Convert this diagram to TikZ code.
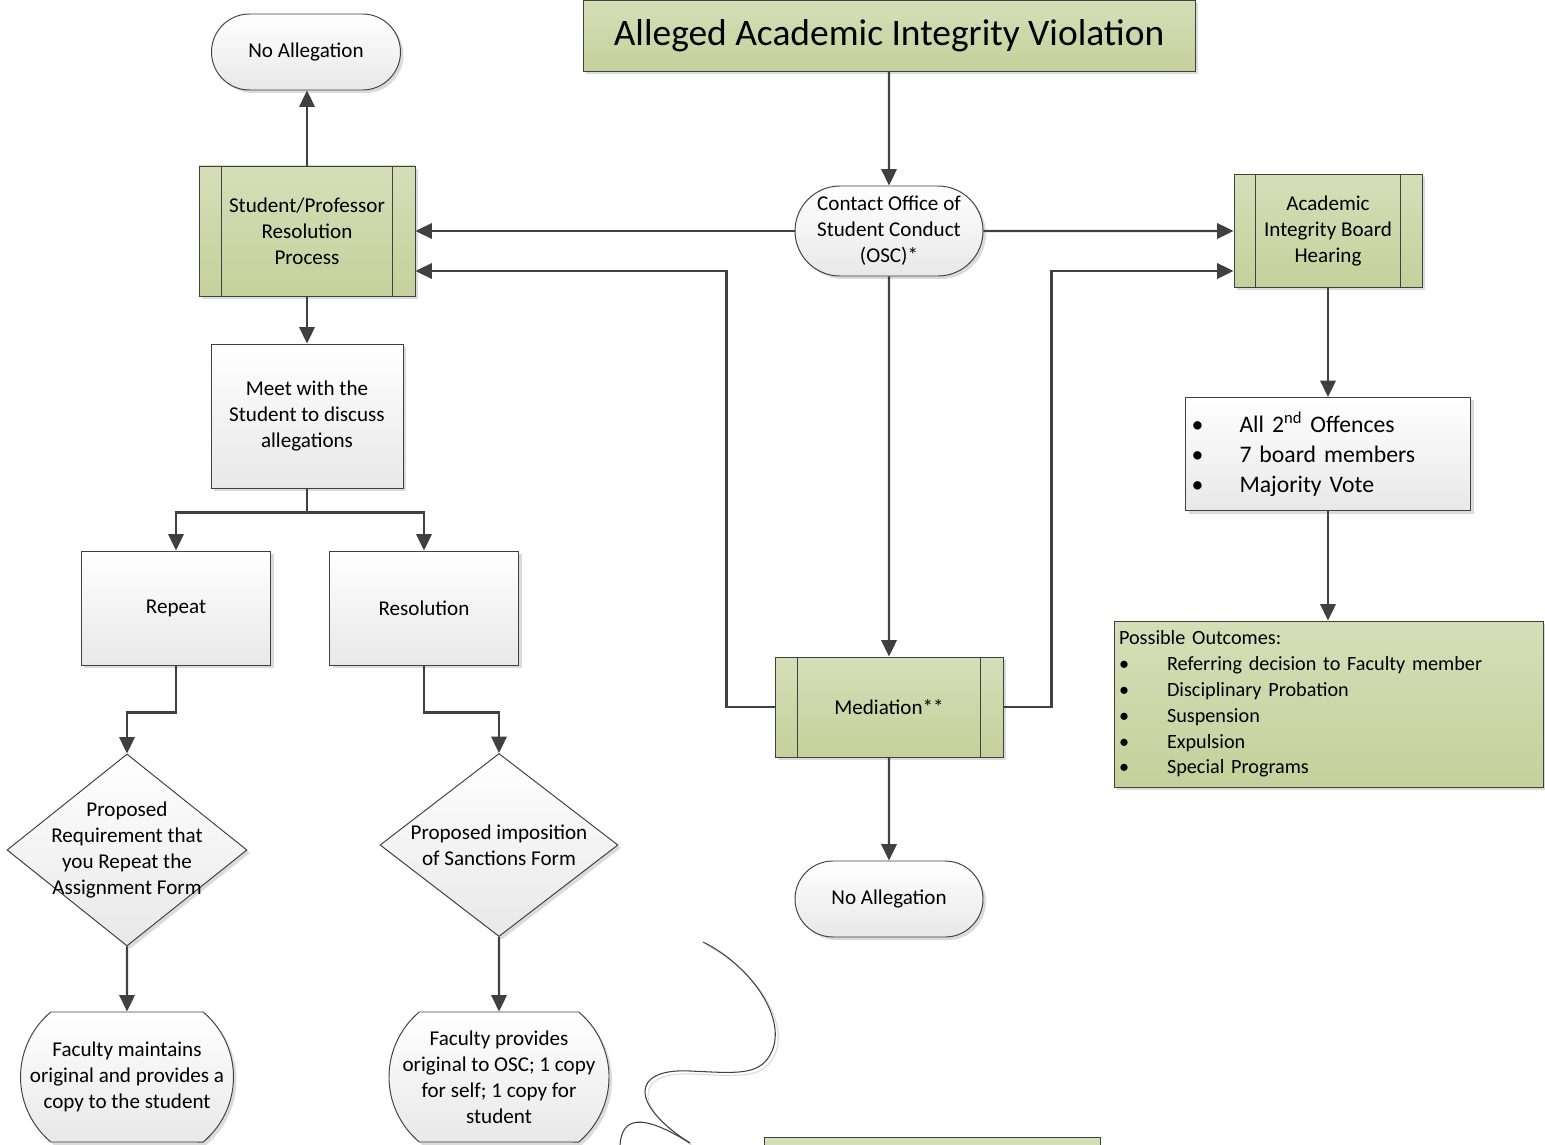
\documentclass[tikz,border=0pt]{standalone}
\usepackage{fontspec}
\setmainfont{Carlito}
\usetikzlibrary{arrows.meta, positioning, shapes.geometric, shapes.misc, shadows}
\definecolor{CLine}{HTML}{404040}
\definecolor{CGreenTop}{HTML}{D6DEB8}
\definecolor{CGreenBot}{HTML}{C5D09B}
\definecolor{CGrayBot}{HTML}{E8E8E8}

\tikzset{
  procbox/.style={draw=CLine, line width=0.55pt, top color=white, bottom color=CGrayBot,
    align=center, inner sep=0pt, font=\fontsize{12}{14.7}\selectfont,
    drop shadow={shadow xshift=0.6mm, shadow yshift=-0.6mm, fill=black!20, opacity=0.7}},
  greenproc/.style={procbox, top color=CGreenTop, bottom color=CGreenBot},
  termbox/.style={procbox, rounded rectangle},
  decbox/.style={procbox, diamond},
  flowline/.style={draw=CLine, line width=1.3pt, -{Triangle[length=3.3mm, width=3.1mm]}},
  bulletlist/.style={align=left, inner xsep=1.2mm},
}
\newcommand{\itm}{\makebox[9.6mm][l]{\textbullet}}

\begin{document}
\begin{tikzpicture}[x=0.2mm, y=-0.2mm]
    \useasboundingbox (0,0) rectangle (1545,1145);
    \clip (0,0) rectangle (1545,1145);

    % Top of the flow
    \node[greenproc, minimum width=122.4mm, minimum height=14.2mm, font=\fontsize{21.3}{25}\selectfont] (violation) at (889,36) {Alleged Academic Integrity Violation};
    \node[termbox, minimum width=37.6mm, minimum height=18mm] (osc) at (889,231) {Contact Office of\\Student Conduct\\(OSC)*};

    % Left branch
    \node[termbox, minimum width=37.8mm, minimum height=15.2mm] (noalleg1) at (306,52) {No Allegation};
    \node[greenproc, minimum width=43.2mm, minimum height=26mm] (resproc) at (307,231) {Student/Professor\\Resolution\\Process};
    \node[procbox, minimum width=38.4mm, minimum height=28.8mm] (meet) at (307,416) {Meet with the\\Student to discuss\\allegations};
    \node[procbox, minimum width=37.8mm, minimum height=22.8mm] (repeat) at (176,608) {Repeat};
    \node[procbox, minimum width=37.8mm, minimum height=22.8mm] (resolution) at (424,608) {Resolution};
    \node[decbox, minimum width=48mm, minimum height=38.4mm] (d1) at (127,850) {};
    \node[align=center, font=\fontsize{12}{14.7}\selectfont] (d1text) at (d1) {Proposed\\Requirement that\\you Repeat the\\Assignment Form};
    \node[decbox, minimum width=47.6mm, minimum height=36.6mm] (d2) at (499,845) {};
    \node[align=center, font=\fontsize{12}{14.7}\selectfont] (d2text) at (d2) {Proposed imposition\\of Sanctions Form};
    \node[termbox, rounded rectangle arc length=100, minimum width=42.6mm, minimum height=26mm] (facmaint) at (127,1077) {Faculty maintains\\original and provides a\\copy to the student};
    \node[termbox, rounded rectangle arc length=100, minimum width=42.6mm, minimum height=26mm] (facprov) at (499,1077) {Faculty provides\\original to OSC; 1 copy\\for self; 1 copy for\\student};

    % Middle branch
    \node[greenproc, minimum width=45.6mm, minimum height=20mm] (mediation) at (889,707) {Mediation**};
    \node[termbox, minimum width=37.6mm, minimum height=15.2mm] (noalleg2) at (889,899) {No Allegation};

    % Right branch
    \node[greenproc, minimum width=37.6mm, minimum height=22.6mm] (board) at (1328,231) {Academic\\Integrity Board\\Hearing};
    \node[procbox, bulletlist, text width=54.6mm, minimum height=22.6mm, font=\fontsize{13.5}{17}\selectfont] (criteria) at (1328,454)
        {\itm All 2\textsuperscript{nd} Offences\\\itm 7 board members\\\itm Majority Vote};
    \node[greenproc, bulletlist, inner xsep=1mm, text width=83.8mm, minimum height=33.2mm, font=\fontsize{11.5}{14.7}\selectfont] (outcomes) at (1328.5,704)
        {Possible Outcomes:\\\itm Referring decision to Faculty member\\\itm Disciplinary Probation\\\itm Suspension\\\itm Expulsion\\\itm Special Programs};

    % Sub-process side bars
    \foreach \n/\d in {resproc/4.6mm, board/4.4mm, mediation/4.6mm} {
        \draw[CLine, line width=0.55pt] ([xshift=\d]\n.north west) -- ([xshift=\d]\n.south west);
        \draw[CLine, line width=0.55pt] ([xshift=-\d]\n.north east) -- ([xshift=-\d]\n.south east);
    }

    % Connectors
    \draw[flowline] (violation) -- (osc);
    \draw[flowline] (osc) -- (resproc);
    \draw[flowline] (osc) -- (board);
    \draw[flowline] (osc) -- (mediation);
    \draw[flowline] (mediation) -- (noalleg2);
    \draw[flowline] (resproc.north) -- (resproc.north |- noalleg1.south);
    \draw[flowline] (mediation.west) -- ++(-48,0) |- ([yshift=-8mm]resproc.east);
    \draw[flowline] (mediation.east) -- ++(48,0) |- ([yshift=-8mm]board.west);
    \draw[flowline] (board) -- (criteria);
    \draw[flowline] (criteria) -- (criteria.south |- outcomes.north);
    \draw[flowline] (resproc) -- (meet);
    \draw[flowline] (meet.south) -- ++(0,24) -| (repeat.north);
    \draw[flowline] (meet.south) -- ++(0,24) -| (resolution.north);
    \draw[flowline] (repeat.south) -- ++(0,47) -| (d1.north);
    \draw[flowline] (resolution.south) -- ++(0,47) -| (d2.north);
    \draw[flowline] (d1) -- (facmaint);
    \draw[flowline] (d2) -- (facprov);

    % Loose curve and cut-off box at the bottom
    \begin{scope}[line width=0.6pt]
        \draw[black!15, shift={(3,3)}] (703,942) .. controls (750,965) and (790,1020) .. (770,1055)
            .. controls (758,1076) and (735,1073) .. (690,1071) .. controls (630,1068) and (630,1105) .. (690,1143);
        \draw[CLine] (703,942) .. controls (750,965) and (790,1020) .. (770,1055)
            .. controls (758,1076) and (735,1073) .. (690,1071) .. controls (630,1068) and (630,1105) .. (690,1143);
        \draw[CLine] (620,1145) .. controls (622,1118) and (640,1112) .. (690,1143);
    \end{scope}
    \draw[draw=CLine, line width=0.55pt, fill=CGreenTop] (764,1137) rectangle (1100,1200);
\end{tikzpicture}
\end{document}
